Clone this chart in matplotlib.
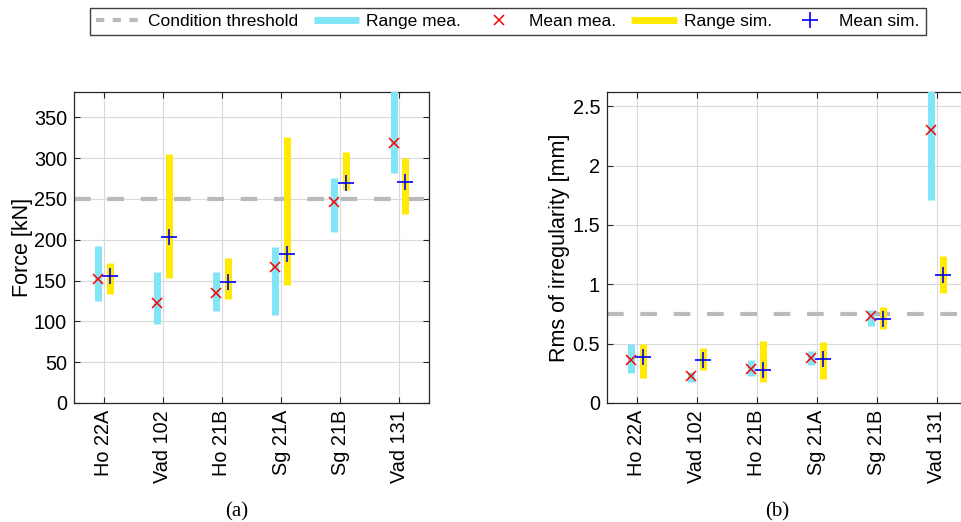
import numpy as np
import matplotlib.pyplot as plt
from matplotlib.lines import Line2D
from matplotlib.ticker import FormatStrFormatter

plt.rcParams['font.family'] = ['Liberation Sans', 'DejaVu Sans']

# Sites on the x axis
sites = ['Ho 22A', 'Vad 102', 'Ho 21B', 'Sg 21A', 'Sg 21B', 'Vad 131']

# (a) force [kN]
force_mea_lo = [125, 97, 113, 108, 210, 282]
force_mea_hi = [192, 161, 161, 191, 276, 400]
force_mea_mean = [152, 122, 135, 167, 246, 319]
force_sim_lo = [134, 153, 127, 144, 261, 231]
force_sim_hi = [172, 305, 178, 326, 307, 300]
force_sim_mean = [155, 203, 148, 182, 269, 271]
force_threshold = 250

# (b) rms of irregularity [mm]
rms_mea_lo = [0.25, 0.18, 0.23, 0.32, 0.65, 1.71]
rms_mea_hi = [0.50, 0.26, 0.36, 0.44, 0.78, 2.80]
rms_mea_mean = [0.365, 0.23, 0.29, 0.38, 0.73, 2.30]
rms_sim_lo = [0.21, 0.28, 0.18, 0.20, 0.62, 0.93]
rms_sim_hi = [0.50, 0.46, 0.52, 0.51, 0.81, 1.24]
rms_sim_mean = [0.39, 0.36, 0.28, 0.37, 0.71, 1.08]
rms_threshold = 0.75

c_mea = '#80e6f7'
c_sim = '#ffea00'
c_thr = '#bababa'
dx = 0.1

fig = plt.figure(figsize=(9.61, 5.22), dpi=100)
ax1 = fig.add_axes([74/961, 1-403/522, 355/961, 311/522])
ax2 = fig.add_axes([607/961, 1-403/522, 360/961, 311/522])


def draw_panel(ax, mlo, mhi, mmean, slo, shi, smean, thr):
    x = np.arange(1, len(sites)+1)
    ax.axhline(thr, color=c_thr, lw=3, linestyle=(0, (4, 4)), zorder=2)
    vm = ax.vlines(x-dx, mlo, mhi, colors=c_mea, lw=5, zorder=3)
    vs = ax.vlines(x+dx, slo, shi, colors=c_sim, lw=5, zorder=3)
    vm.set_capstyle('butt')
    vs.set_capstyle('butt')
    ax.plot(x-dx, mmean, 'x', color='red', ms=7, mew=1.1, zorder=4)
    ax.plot(x+dx, smean, '+', color='blue', ms=11, mew=1.2, zorder=4)
    ax.set_xlim(0.5, 6.5)
    ax.set_xticks(x)
    ax.set_xticklabels(sites, rotation=90)
    ax.grid(True, color='#dadada', lw=0.8)
    ax.set_axisbelow(True)
    ax.tick_params(direction='in', top=True, right=True, length=4,
                   labelsize=14.3, color='#262626', pad=5)
    for s in ax.spines.values():
        s.set_color('#262626')
        s.set_linewidth(0.9)


draw_panel(ax1, force_mea_lo, force_mea_hi, force_mea_mean,
           force_sim_lo, force_sim_hi, force_sim_mean, force_threshold)
ax1.set_ylim(0, 381)
ax1.set_yticks(np.arange(0, 351, 50))
ax1.set_ylabel('Force [kN]', fontsize=15.5, labelpad=1)

draw_panel(ax2, rms_mea_lo, rms_mea_hi, rms_mea_mean,
           rms_sim_lo, rms_sim_hi, rms_sim_mean, rms_threshold)
ax2.set_ylim(0, 2.62)
ax2.set_yticks([0, 0.5, 1, 1.5, 2, 2.5])
ax2.yaxis.set_major_formatter(FormatStrFormatter('%g'))
ax2.set_ylabel('Rms of irregularity [mm]', fontsize=15.5, labelpad=2)

# Panel captions
fig.text(237/961, 1-512/522, '(a)', family='Liberation Serif', fontsize=15,
         ha='center', va='center')
fig.text(777/961, 1-512/522, '(b)', family='Liberation Serif', fontsize=15,
         ha='center', va='center')

# Shared legend on top
handles = [
    Line2D([], [], color=c_thr, lw=3, linestyle=(0, (2, 2))),
    Line2D([], [], color=c_mea, lw=5, solid_capstyle='butt'),
    Line2D([], [], color='red', marker='x', ls='none', ms=7, mew=1.1),
    Line2D([], [], color=c_sim, lw=5, solid_capstyle='butt'),
    Line2D([], [], color='blue', marker='+', ls='none', ms=11, mew=1.2),
]
labels = ['Condition threshold', 'Range mea.', 'Mean mea.', 'Range sim.', 'Mean sim.']
leg = fig.legend(handles, labels, loc='center', ncol=5,
                 bbox_to_anchor=(508/961, 1-21.5/522), fontsize=12.5,
                 frameon=True, fancybox=False, framealpha=1,
                 edgecolor='#404040', handlelength=2.6, handletextpad=0.4,
                 columnspacing=0.9, borderpad=0.35, borderaxespad=0)
leg.get_frame().set_linewidth(1.0)

fig.savefig('out.png', dpi=100)
